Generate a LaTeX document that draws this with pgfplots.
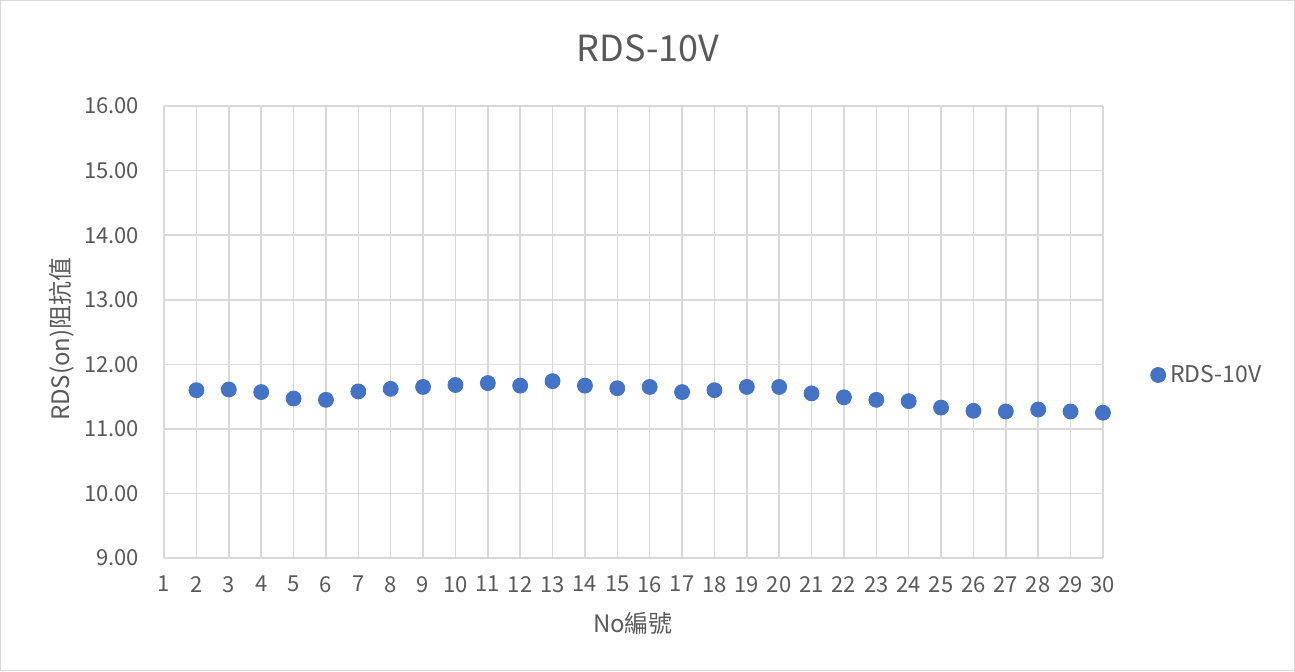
\documentclass[border=0pt]{standalone}
\usepackage{pgfplots}
\pgfplotsset{compat=1.18}
\usepackage{fontspec}
\setmainfont{Noto Sans CJK TC}
\definecolor{ptblue}{HTML}{4472C4}
\definecolor{txtgray}{HTML}{595959}
\definecolor{gridgray}{HTML}{D9D9D9}
\begin{document}
\begin{tikzpicture}
\draw[gridgray, line width=0.6pt, fill=white] (0.25pt,0.25pt) rectangle (647.25pt,335.25pt);
\begin{axis}[
  at={(82pt,56.5pt)}, anchor=south west,
  scale only axis, width=469.5pt, height=226pt,
  xmin=1, xmax=30, ymin=9, ymax=16,
  xtick={1,...,30}, ytick={9,...,16},
  grid=major, major grid style={gridgray, line width=0.8pt},
  axis line style={draw=none},
  major tick length=0pt,
  tick label style={txtgray, font=\fontsize{11}{12}\selectfont},
  /pgf/number format/assume math mode=true,
  yticklabel={\pgfmathprintnumber[fixed,fixed zerofill,precision=2]{\tick}},
  xticklabel style={yshift=-5.5pt},
  yticklabel style={xshift=-9pt},
  legend style={draw=none, fill=none, at={(1.05,0.405)}, anchor=west,
    font=\fontsize{11.5}{12}\selectfont, text=txtgray, inner sep=0pt},
  legend cell align=left,
  legend image code/.code={\fill[ptblue] (0.1cm,0cm) circle (3.75pt);},
]
\addplot[only marks, mark=*, mark size=3.75pt, color=ptblue] coordinates {
(2,11.60) (3,11.61) (4,11.57) (5,11.47) (6,11.45) (7,11.58) (8,11.62) (9,11.65)
(10,11.68) (11,11.71) (12,11.67) (13,11.74) (14,11.67) (15,11.63) (16,11.65)
(17,11.57) (18,11.60) (19,11.65) (20,11.65) (21,11.55) (22,11.49) (23,11.45)
(24,11.43) (25,11.33) (26,11.28) (27,11.27) (28,11.30) (29,11.27) (30,11.25)
};
\addlegendentry{RDS-10V}
\end{axis}
\node[txtgray, font=\fontsize{18}{20}\selectfont] at (324pt,311.5pt) {RDS-10V};
\node[txtgray, font=\fontsize{12}{14}\selectfont] at (316.5pt,24pt) {No編號};
\node[txtgray, font=\fontsize{12}{14}\selectfont, rotate=90] at (31pt,166pt) {RDS(on)阻抗值};
\end{tikzpicture}
\end{document}
